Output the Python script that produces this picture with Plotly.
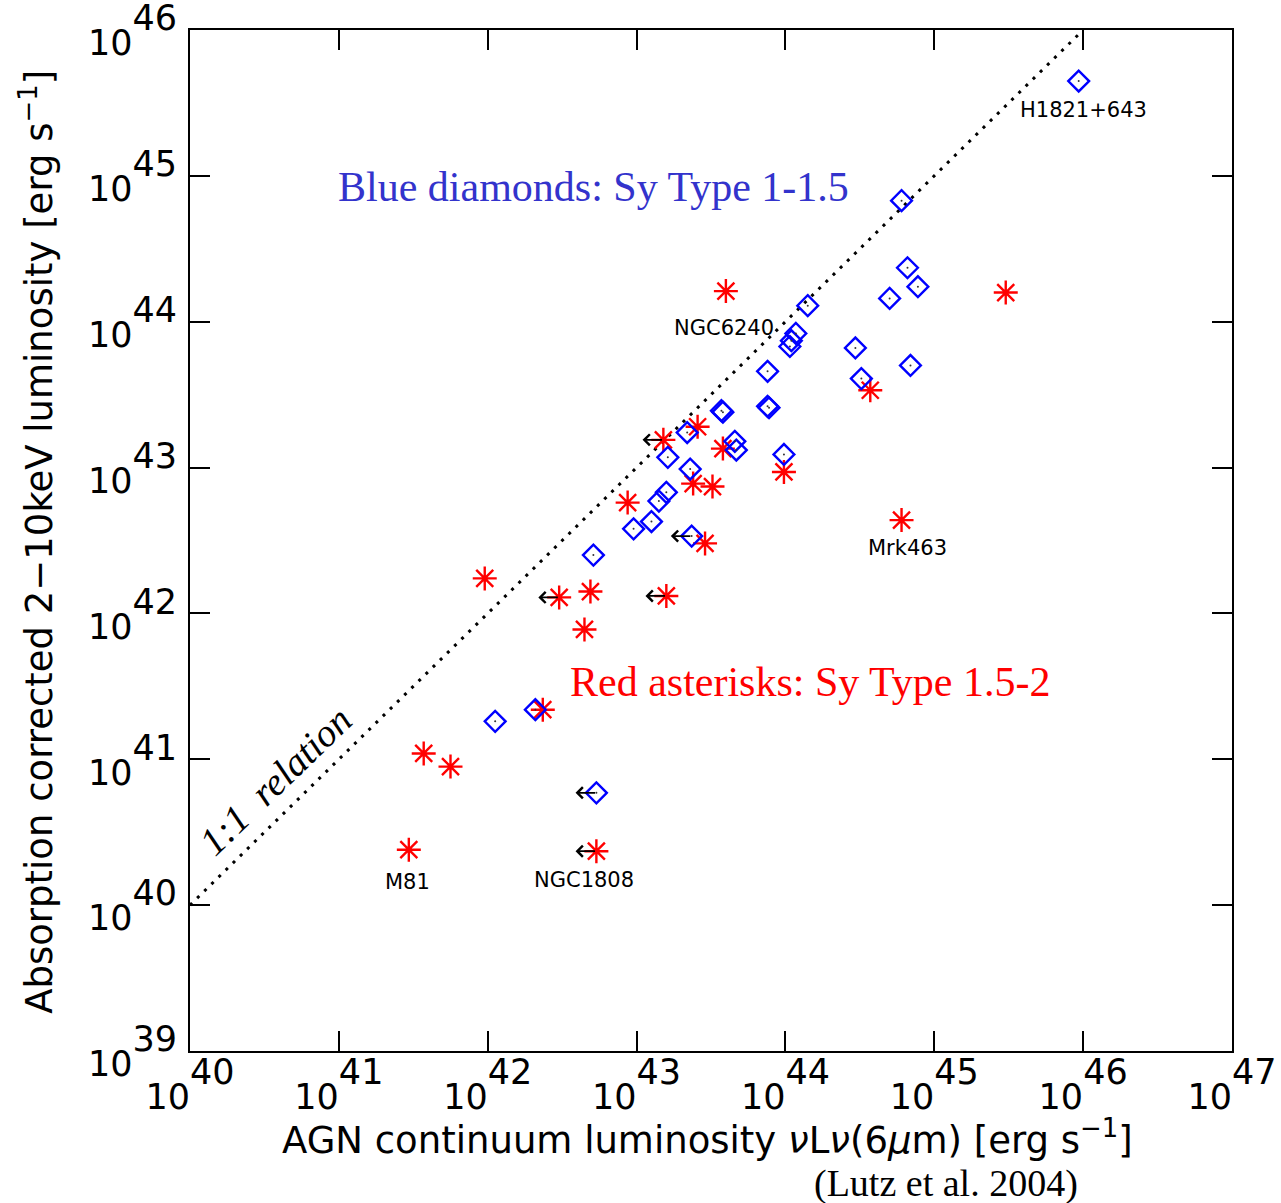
import plotly.graph_objects as go

# ---- data (log10 of luminosities, erg/s) ----
blue_logx = [45.97, 44.78, 44.82, 44.89, 44.70, 44.15, 44.07, 44.04, 44.03, 44.47,
             44.84, 43.88, 44.51, 43.88, 43.89, 43.57, 43.58, 43.34, 43.66, 43.67,
             43.99, 43.21, 43.36, 43.20, 43.15, 43.10, 42.98, 43.37, 42.71, 42.32,
             42.05, 42.73]
blue_logy = [45.65, 44.83, 44.37, 44.24, 44.16, 44.11, 43.92, 43.87, 43.83, 43.82,
             43.70, 43.66, 43.61, 43.42, 43.41, 43.39, 43.38, 43.24, 43.18, 43.12,
             43.09, 43.07, 42.99, 42.83, 42.77, 42.63, 42.58, 42.53, 42.40, 41.34,
             41.26, 40.77]
blue_limit = [0, 0, 0, 0, 0, 0, 0, 0, 0, 0,
              0, 0, 0, 0, 0, 0, 0, 0, 0, 0,
              0, 0, 0, 0, 0, 0, 0, 1, 0, 0,
              0, 1]

red_logx = [43.60, 45.48, 44.57, 43.18, 43.41, 43.58, 43.99, 43.38, 43.51, 42.94,
            43.46, 44.78, 41.98, 42.48, 42.69, 43.20, 42.65, 42.37, 41.57, 41.75,
            41.47, 42.73]
red_logy = [44.21, 44.20, 43.53, 43.19, 43.28, 43.13, 42.97, 42.89, 42.87, 42.76,
            42.48, 42.64, 42.24, 42.11, 42.15, 42.12, 41.89, 41.34, 41.04, 40.95,
            40.38, 40.37]
red_limit = [0, 0, 0, 1, 0, 0, 0, 0, 0, 0,
             0, 0, 0, 1, 0, 1, 0, 0, 0, 0,
             0, 1]

relation_log = [40, 46]

x_tickvals = [40, 41, 42, 43, 44, 45, 46, 47]
y_tickvals = [39, 40, 41, 42, 43, 44, 45, 46]

source_names = ["H1821+643", "NGC6240", "Mrk463", "M81", "NGC1808"]
name_pos_x = [46.00, 43.59, 44.82, 41.46, 42.65]
name_pos_y = [45.45, 43.96, 42.45, 40.16, 40.17]

# ---- figure ----
SANS = "DejaVu Sans"
SERIF = "Liberation Serif"
TICK_SIZE = 35

def tick_text(v):
    # exponent drawn at full size, raised well above the base
    return "10<sup><sup><span style='font-size:%dpx'>%d</span></sup></sup>" % (TICK_SIZE, v)

def pw(v):
    return 10.0 ** float(v)

bx = [pw(v) for v in blue_logx]
by = [pw(v) for v in blue_logy]
rx = [pw(v) for v in red_logx]
ry = [pw(v) for v in red_logy]

fig = go.Figure()

fig.add_trace(go.Scatter(
    x=[pw(v) for v in relation_log], y=[pw(v) for v in relation_log],
    mode="lines", line=dict(color="black", width=3, dash="3px,7px"),
    hoverinfo="skip", showlegend=False))

fig.add_trace(go.Scatter(
    x=rx, y=ry, mode="markers", showlegend=False,
    marker=dict(symbol="asterisk-open", size=20,
                line=dict(color="#ff0000", width=2.4), color="#ff0000")))

fig.add_trace(go.Scatter(
    x=bx, y=by, mode="markers", showlegend=False,
    marker=dict(symbol="diamond-open", size=16, color="#0000ff",
                line=dict(color="#0000ff", width=2.4))))

fig.add_trace(go.Scatter(
    x=bx, y=by, mode="markers", showlegend=False, hoverinfo="skip",
    marker=dict(symbol="circle", size=2, color="#333333")))

annotations = []
# upper-limit arrows (pointing left from the marker)
for lx, ly, lim in list(zip(blue_logx, blue_logy, blue_limit)) + list(zip(red_logx, red_logy, red_limit)):
    if lim:
        annotations.append(dict(
            x=lx - 0.14, y=ly, xref="x", yref="y", text="",
            showarrow=True, ax=21, ay=0, axref="pixel", ayref="pixel",
            arrowhead=4, arrowsize=1.2, arrowwidth=1.8, arrowcolor="black"))

for name, nx, ny in zip(source_names, name_pos_x, name_pos_y):
    annotations.append(dict(x=nx, y=ny, xref="x", yref="y", text=name,
                            xanchor="center", yanchor="middle",
                            showarrow=False, font=dict(family=SANS, size=21, color="black")))

def pa(x, y, text, size, family, color="black", angle=0):
    return dict(x=x, y=y, xref="paper", yref="paper", text=text, textangle=angle,
                xanchor="center", yanchor="middle", showarrow=False,
                font=dict(family=family, size=size, color=color))

annotations += [
    pa(0.3868, 0.846, "Blue diamonds: Sy Type 1-1.5", 42, SERIF, "#3333cc"),
    pa(0.595, 0.3614, "Red asterisks: Sy Type 1.5-2", 42, SERIF, "#ff0000"),
    pa((275 - 190) / 1042, (1051 - 780) / 1021, "<i>1:1  relation</i>", 39, SERIF, angle=-44),
    pa(0.497, (1051 - 1137) / 1021,
       "AGN continuum luminosity <i>ν</i>L<i>ν</i>(6<i>μ</i>m) [erg s<sup>−1</sup>]",
       37, SANS),
    pa(-0.147, 0.4985, "Absorption corrected 2−10keV luminosity [erg s<sup>−1</sup>]",
       37, SANS, angle=-90),
    pa(0.7255, (1051 - 1183) / 1021, "(Lutz et al. 2004)", 38, SERIF),
]

axis_common = dict(type="log", showgrid=False, zeroline=False, showline=True,
                   linecolor="black", linewidth=2, mirror="allticks", ticks="inside",
                   ticklen=20, tickwidth=2, tickcolor="black", automargin=False,
                   ticklabeloverflow="allow",
                   tickfont=dict(family=SANS, size=TICK_SIZE, color="black"))

eps = 1e-6
fig.update_xaxes(range=[40 - eps, 47 + eps], tickvals=[pw(v) for v in x_tickvals],
                 ticktext=[tick_text(v) for v in x_tickvals], ticklabelstandoff=14,
                 **axis_common)
fig.update_yaxes(range=[39 - eps, 46 + eps], tickvals=[pw(v) for v in y_tickvals],
                 ticktext=[tick_text(v) for v in y_tickvals], ticklabelstandoff=4,
                 ticklabelshift=13, **axis_common)

fig.update_layout(width=1281, height=1203, autosize=False,
                  margin=dict(l=190, r=49, t=30, b=152),
                  paper_bgcolor="white", plot_bgcolor="white",
                  showlegend=False, annotations=annotations)

fig.write_html("out.html")
